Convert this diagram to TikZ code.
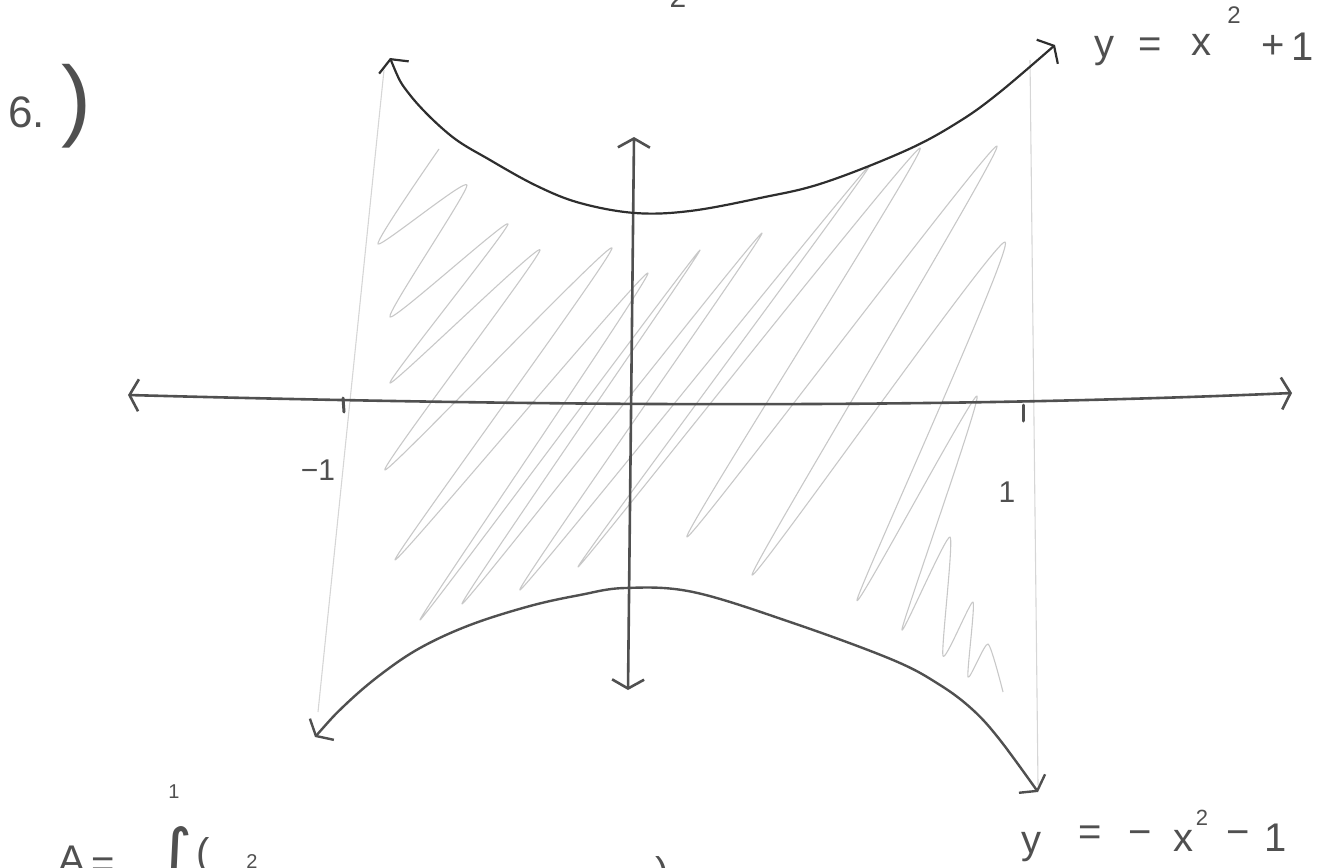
\documentclass[tikz,border=0pt]{standalone}
\usepackage{fontspec}
\setmainfont{Liberation Sans}
\newfontfamily\djv{DejaVu Sans}
\usetikzlibrary{arrows.meta}
\definecolor{ink}{HTML}{505050}
\definecolor{darkink}{HTML}{2E2E2E}
\definecolor{hatchc}{HTML}{C8C8C8}
\definecolor{faintc}{HTML}{D6D6D6}
\begin{document}
\begin{tikzpicture}[x=1pt,y=-1pt,
  axis/.style={ink, line width=2.6pt, line cap=round},
  curve/.style={darkink, line width=2.2pt, line cap=round},
  barbs/.style={{Straight Barb[length=9pt,width=32pt]}-{Straight Barb[length=9pt,width=32pt]}},
  hatch/.style={hatchc, line width=1.1pt},
  faintline/.style={faintc, line width=1.1pt},
  tickline/.style={ink, line width=3pt, line cap=round},
  lbl/.style={ink, inner sep=0pt, font=\fontsize{40}{48}\selectfont},
  slbl/.style={ink, inner sep=0pt, font=\fontsize{30}{36}\selectfont},
  tlbl/.style={ink, inner sep=0pt, font=\fontsize{20}{24}\selectfont},
]
\useasboundingbox (0,0) rectangle (1319,867);
\clip (0,0) rectangle (1319,867);

% faint bounding lines x = -1 and x = 1
\coordinate (lt) at (384,70);  \coordinate (lb) at (318,712);
\coordinate (rt) at (1030,60); \coordinate (rb) at (1038,785);
\draw[faintline] (lt) -- (lb);
\draw[faintline] (rt) -- (rb);

% hatching scribble
\draw[hatch, line join=round] plot[smooth, tension=0.35] coordinates {
 (439,149) (378,244) (467,185) (390,317) (508,224) (390,383)
 (540,250) (385,470) (612,248) (395,560) (648,273) (420,620)
 (700,250) (462,604) (762,233) (520,590) (870,165) (578,567)
 (920,148) (687,537) (997,146) (752,575) (1005,242) (857,600)
 (977,396) (902,629) (950,537) (943,656) (973,602) (968,677)
 (988,644) (1003,692)};

% axes
\coordinate (xL) at (128,395); \coordinate (xR) at (1292,393);
\coordinate (yT) at (634,137); \coordinate (yB) at (628,690);
\draw[axis, barbs] (xL) .. controls (500,405) and (900,410) .. (xR);
\draw[axis, barbs] (yT) -- (yB);

% ticks
\coordinate (tl1) at (343,398); \coordinate (tl2) at (344,412);
\coordinate (tr1) at (1023,405); \coordinate (tr2) at (1023,421);
\draw[tickline] (tl1) -- (tl2);
\draw[tickline] (tr1) -- (tr2);
\node[slbl, anchor=base] (mone) at (318,480) {−1};
\node[slbl, anchor=base] (pone) at (1007,502) {1};

% upper curve y = x^2 + 1
\draw[curve, barbs] plot[smooth, tension=0.6] coordinates {
 (390,58) (410,95) (450,135) (490,160) (537,186) (580,203) (635,213)
 (690,211) (760,198) (823,183) (907,150) (960,121) (1000,92) (1055,45)};

% lower curve y = -x^2 - 1
\draw[curve, ink, line width=2.4pt, barbs] plot[smooth, tension=0.6] coordinates {
 (315,737) (345,705) (380,675) (420,648) (470,625) (530,606) (580,595)
 (625,588) (693,592) (793,623) (893,660) (940,685) (973,710) (1000,740) (1038,792)};

% label y = x^2 + 1
\node[lbl, anchor=base] (uy) at (1104,58) {y};
\node[lbl] (ueq) at (1150,48) {=};
\node[lbl, anchor=base] (ux) at (1201,56) {x};
\node[slbl, font=\fontsize{24}{28}\selectfont] (u2) at (1234,15) {2};
\node[lbl] (uplus) at (1273,47) {+};
\node[lbl, anchor=base] (u1) at (1303,60) {1};

% label y = -x^2 - 1
\node[lbl, anchor=base] (ly) at (1031,853) {y};
\node[lbl] (leq) at (1090,836) {=};
\node[lbl] (lm1) at (1140,838) {−};
\node[lbl, anchor=base] (lx) at (1183,851) {x};
\node[slbl, font=\fontsize{22}{26}\selectfont] (l2) at (1202,818) {2};
\node[lbl] (lm2) at (1238,838) {−};
\node[lbl, anchor=base] (l1) at (1276,851) {1};

% problem number
\node[lbl, font=\fontsize{44}{52}\selectfont, anchor=base west] (six) at (8,127) {6.};
\node[lbl, font=\fontsize{90}{100}\selectfont] (paren) at (76,106) {)};

% cut-off 2 at top
\node[slbl, anchor=base] (top2) at (678,8) {2};

% cut-off bottom formula
\node[lbl, anchor=north] (A) at (72,846) {A};
\node[lbl] (Aeq) at (103,868) {=};
\node[tlbl, anchor=base] (upl) at (174,798) {1};
\node[ink, inner sep=0pt, anchor=north, font=\djv\fontsize{70}{80}\selectfont] (intg) at (175,826) {∫};
\node[lbl, anchor=north] (lpar) at (203,837) {(};
\node[tlbl, anchor=north] (b2) at (252,854) {2};
\node[lbl, anchor=north] (rpar) at (662,856) {)};
\end{tikzpicture}
\end{document}
